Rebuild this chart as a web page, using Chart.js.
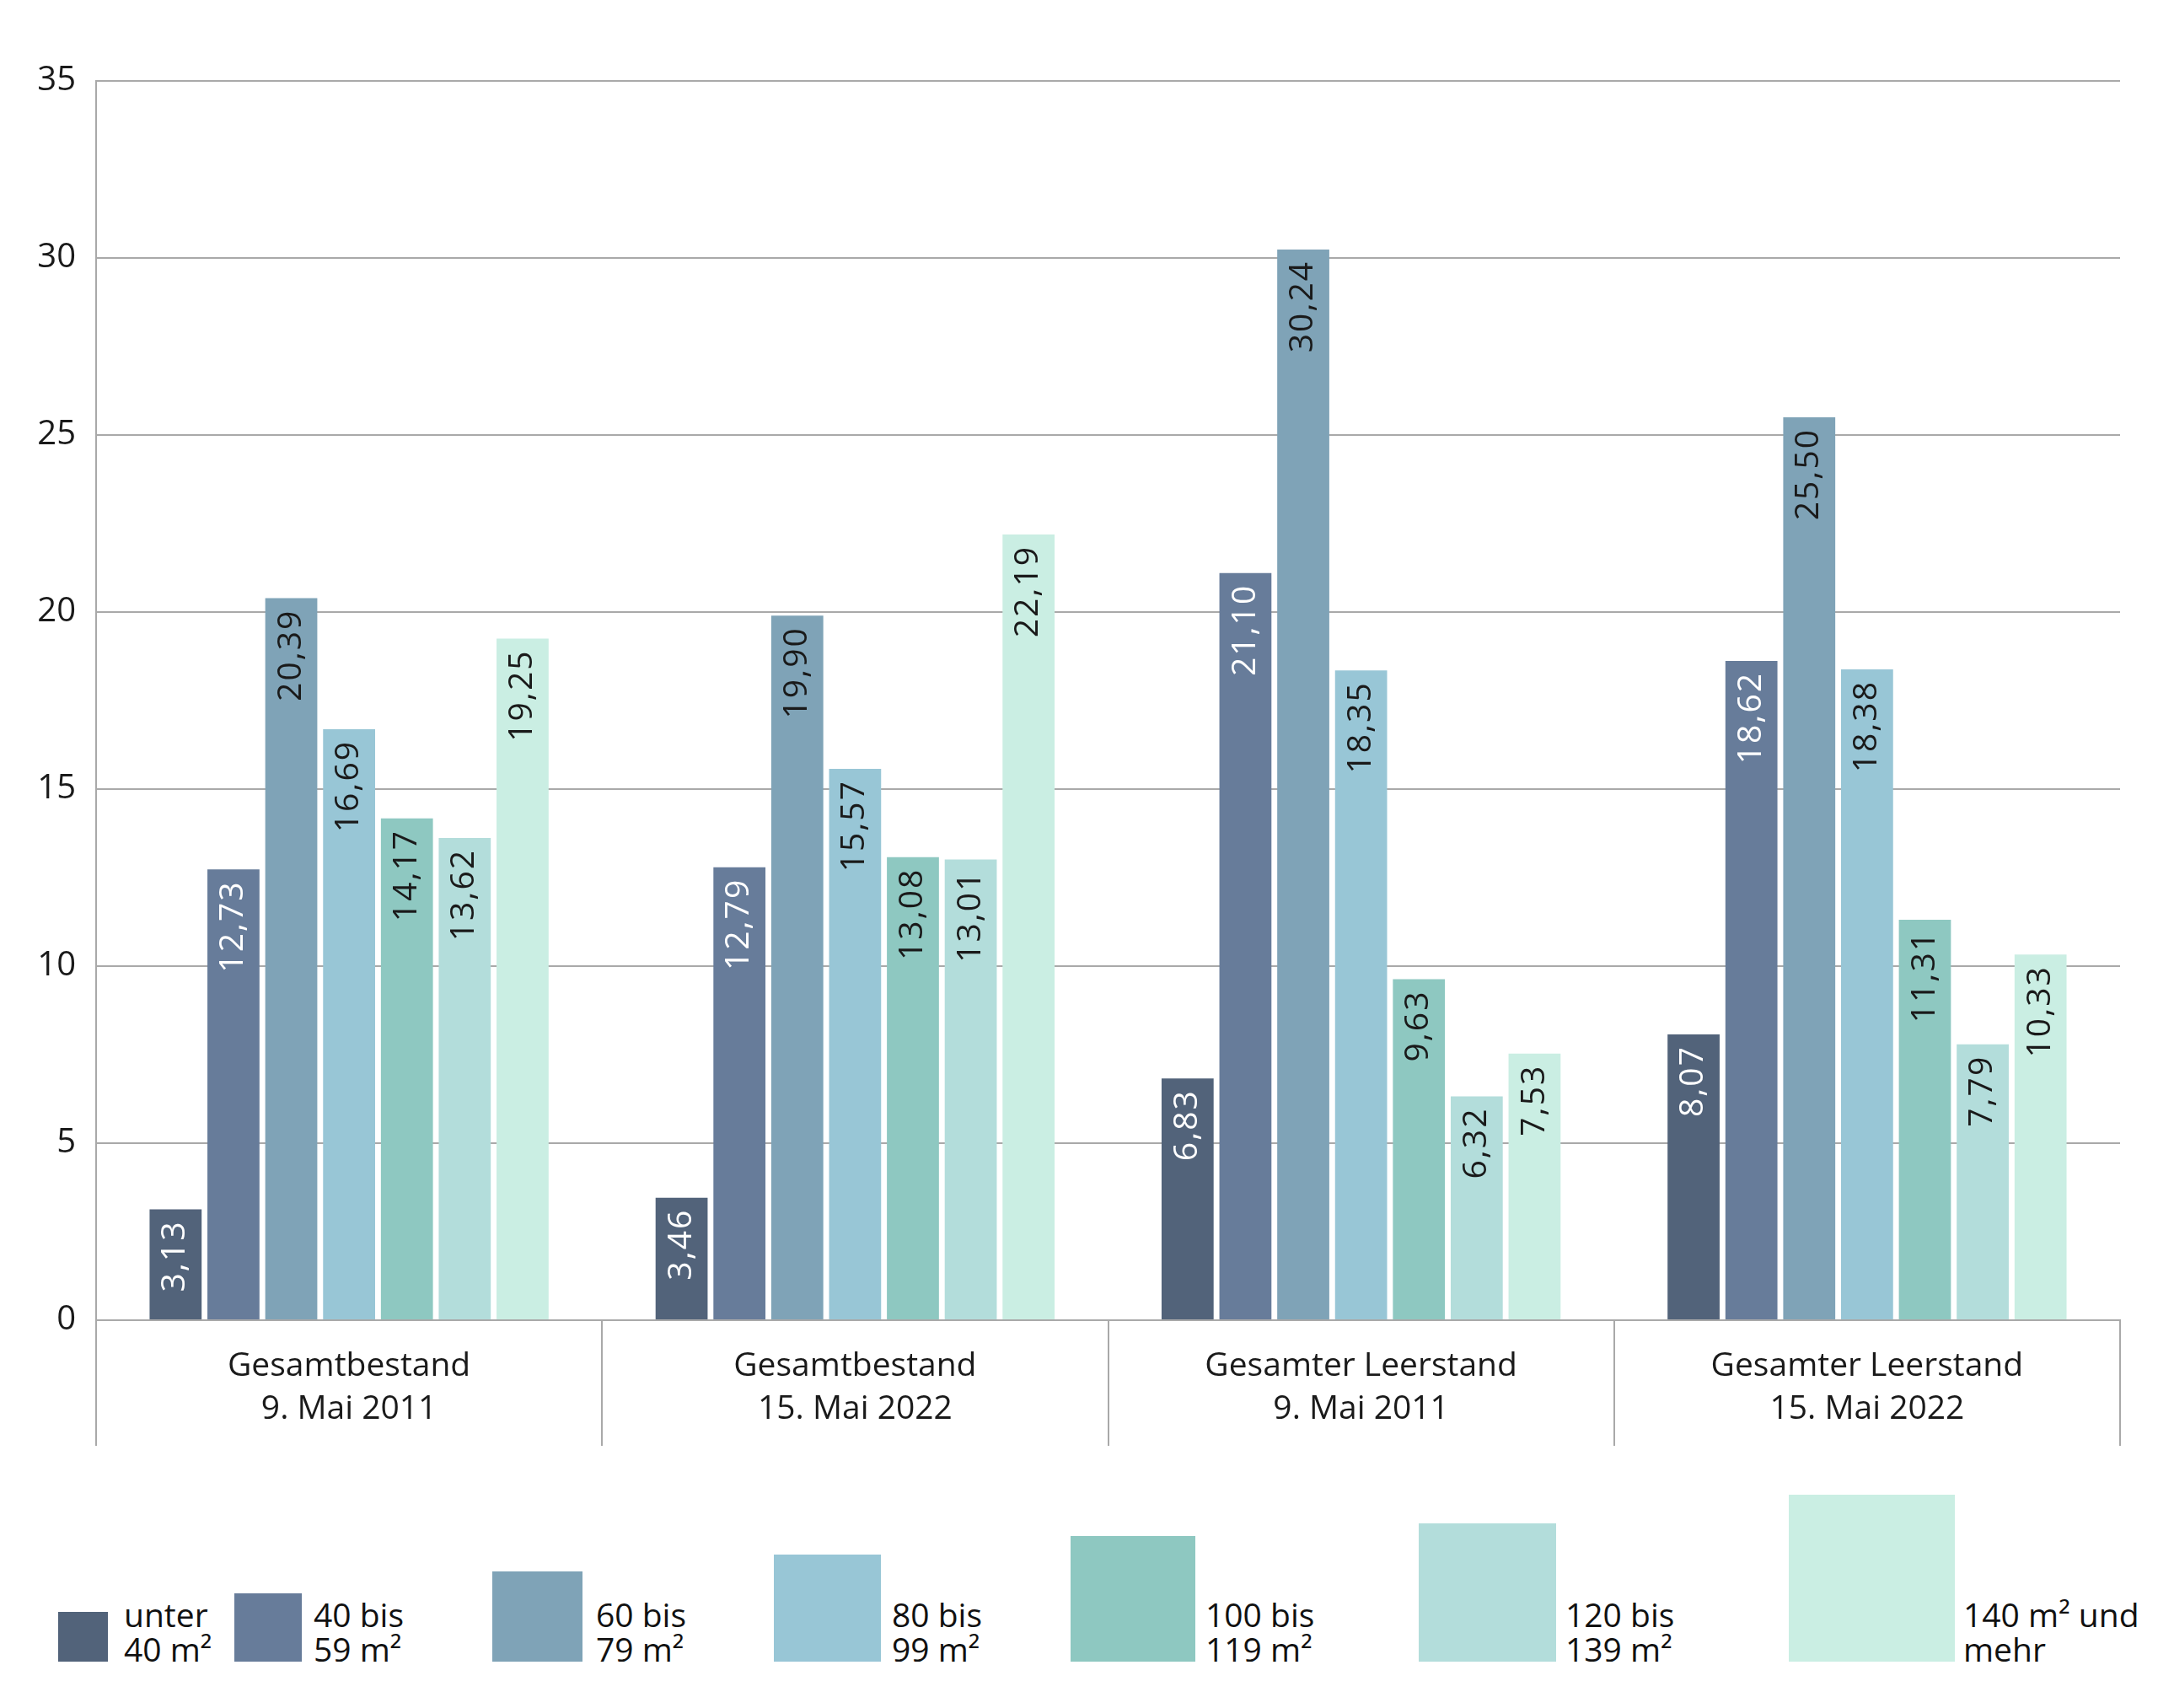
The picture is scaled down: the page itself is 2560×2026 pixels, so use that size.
<!DOCTYPE html>
<html lang="de">
<head>
<meta charset="utf-8">
<script src="https://cdn.jsdelivr.net/npm/chart.js@4.4.0/dist/chart.umd.min.js"></script>
<style>
  html, body { margin: 0; padding: 0; background: #fff; }
  body { width: 2560px; height: 2026px; position: relative; overflow: hidden; font-family: "Open Sans", sans-serif; }
  #chart-wrap { position: absolute; left: 0; top: 0; width: 2560px; height: 1720px; }
  .legend-box { position: absolute; }
  .legend-text { position: absolute; top: 1894px; font-size: 39px; line-height: 41px; color: #111; white-space: nowrap; }
</style>
</head>
<body>
<div id="chart-wrap"><canvas id="size-chart" width="2560" height="1720"></canvas></div>
<div id="legend"></div>
<script>
// categories (two lines each)
const categories = [
  ["Gesamtbestand", "9. Mai 2011"],
  ["Gesamtbestand", "15. Mai 2022"],
  ["Gesamter Leerstand", "9. Mai 2011"],
  ["Gesamter Leerstand", "15. Mai 2022"],
];

const sizeLabels = [
  ["unter", "40 m²"],
  ["40 bis", "59 m²"],
  ["60 bis", "79 m²"],
  ["80 bis", "99 m²"],
  ["100 bis", "119 m²"],
  ["120 bis", "139 m²"],
  ["140 m² und", "mehr"],
];

const unter40 = [3.13, 3.46, 6.83, 8.07];
const from40to59 = [12.73, 12.79, 21.1, 18.62];
const from60to79 = [20.39, 19.9, 30.24, 25.5];
const from80to99 = [16.69, 15.57, 18.35, 18.38];
const from100to119 = [14.17, 13.08, 9.63, 11.31];
const from120to139 = [13.62, 13.01, 6.32, 7.79];
const from140 = [19.25, 22.19, 7.53, 10.33];

const yTicks = [0, 5, 10, 15, 20, 25, 30, 35];

const colors = ["#52637a", "#677c9a", "#7fa3b7", "#98c6d6", "#8ec8c1", "#b3dddb", "#caeee3"];

// legend boxes: [left, top, width] in px, bottoms all at 1971
const legendBoxes = [
  [69, 1912, 59],
  [278, 1890, 80],
  [584, 1864, 107],
  [918, 1844, 127],
  [1270, 1822, 148],
  [1683, 1807, 163],
  [2122, 1773, 197],
];
const legendTextX = [147, 372, 707, 1058, 1430, 1857, 2329];

const seriesValues = [unter40, from40to59, from60to79, from80to99, from100to119, from120to139, from140];
const gridColor = "#a9a9a9";

const barValueLabels = {
  id: "barValueLabels",
  afterDatasetsDraw(chart) {
    const ctx = chart.ctx;
    chart.data.datasets.forEach((ds, i) => {
      const meta = chart.getDatasetMeta(i);
      meta.data.forEach((bar, j) => {
        const text = ds.data[j].toFixed(2).replace(".", ",");
        ctx.save();
        ctx.translate(bar.x, bar.y + 13);
        ctx.rotate(-Math.PI / 2);
        ctx.font = "39px 'Open Sans'";
        ctx.letterSpacing = "2px";
        ctx.fillStyle = i < 2 ? "#ffffff" : "#1a1a1a";
        ctx.textAlign = "right";
        ctx.textBaseline = "middle";
        ctx.fillText(text, 0, 0);
        ctx.restore();
      });
    });
  },
};

const sizeChart = new Chart(document.getElementById("size-chart"), {
  type: "bar",
  plugins: [barValueLabels],
  data: {
    labels: categories,
    datasets: seriesValues.map((vals, i) => ({
      label: sizeLabels[i].join(" "),
      data: vals,
      backgroundColor: colors[i],
      borderWidth: 0,
      categoryPercentage: 0.8,
      barPercentage: 0.9,
    })),
  },
  options: {
    responsive: false,
    animation: false,
    layout: { padding: { top: 96, right: 45, bottom: 5, left: 0 } },
    plugins: {
      legend: { display: false },
      tooltip: { enabled: false },
    },
    scales: {
      x: {
        grid: {
          offset: true,
          drawOnChartArea: false,
          drawTicks: true,
          tickLength: 149,
          color: gridColor,
          lineWidth: 2,
        },
        border: { display: true, color: gridColor, width: 2 },
        ticks: {
          font: { family: "Open Sans", size: 39, lineHeight: 1.3 },
          color: "#1a1a1a",
          padding: -119,
          maxRotation: 0,
          autoSkip: false,
        },
        afterFit: (scale) => { scale.height = 149; },
      },
      y: {
        min: yTicks[0],
        max: yTicks[yTicks.length - 1],
        grid: { color: gridColor, lineWidth: 2, drawTicks: false },
        border: { display: true, color: gridColor, width: 2 },
        ticks: {
          stepSize: 5,
          font: { family: "Open Sans", size: 40 },
          color: "#1a1a1a",
          padding: 24,
        },
        afterFit: (scale) => { scale.width = 114; },
      },
    },
  },
});

// legend
const legendEl = document.getElementById("legend");
sizeLabels.forEach((lines, i) => {
  const [left, top, width] = legendBoxes[i];
  const box = document.createElement("div");
  box.className = "legend-box";
  box.style.left = left + "px";
  box.style.top = top + "px";
  box.style.width = width + "px";
  box.style.height = (1971 - top) + "px";
  box.style.background = colors[i];
  legendEl.appendChild(box);

  const txt = document.createElement("div");
  txt.className = "legend-text";
  txt.style.left = legendTextX[i] + "px";
  txt.innerHTML = lines.join("<br>");
  legendEl.appendChild(txt);
});
</script>
</body>
</html>
